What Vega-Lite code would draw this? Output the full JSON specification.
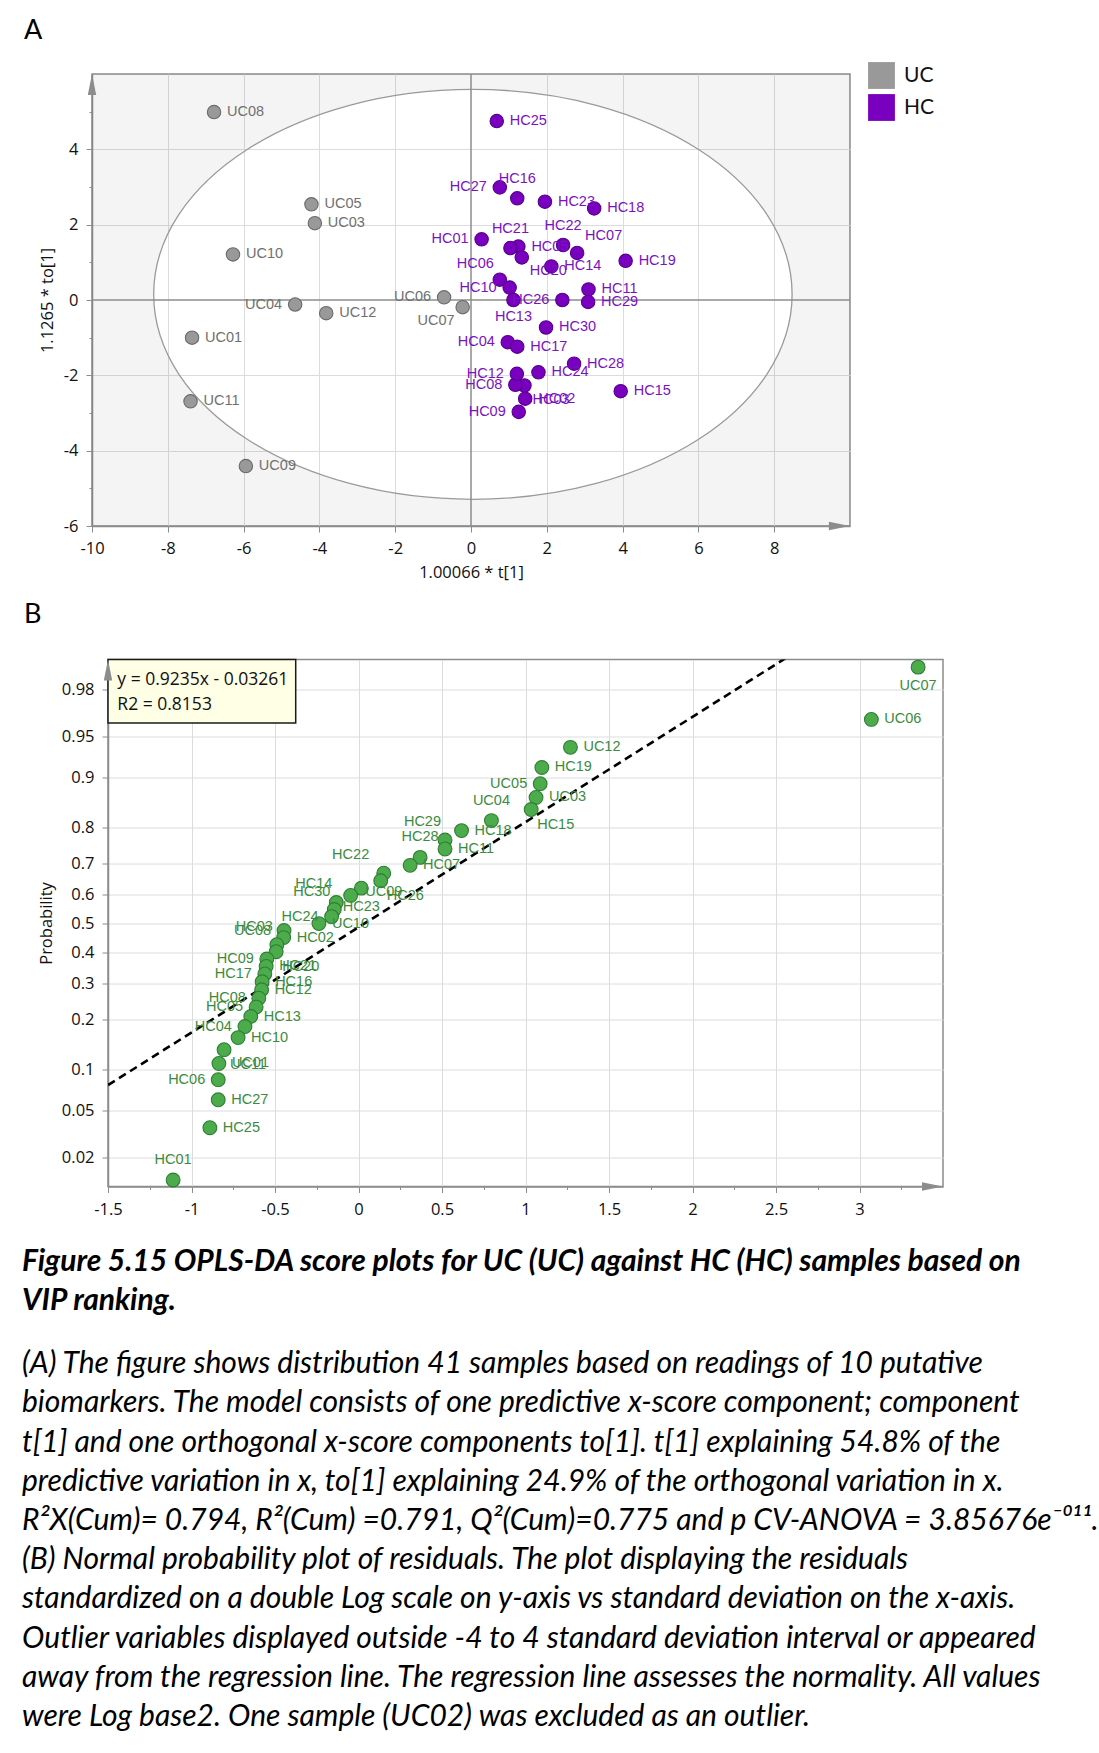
{
  "$schema": "https://vega.github.io/schema/vega-lite/v6.json",
  "background": "white",
  "padding": {"top": 16, "left": 22, "right": 2, "bottom": 10},
  "spacing": 17.5,
  "config": {
    "font": "Open Sans",
    "view": {"stroke": "#8c8c8c", "strokeWidth": 1.5},
    "axis": {
      "domainColor": "#8c8c8c", "domainWidth": 1.5, "tickColor": "#8c8c8c", "tickWidth": 1,
      "labelFont": "Open Sans", "labelFontSize": 16.5, "labelColor": "#111111", "labelPadding": 8,
      "titleFont": "Open Sans", "titleFontSize": 16.5, "titleFontWeight": "normal", "titleColor": "#111111",
      "gridColor": "#dcdcdc", "gridWidth": 1, "labelOverlap": false, "labelFlush": false
    }
  },
  "title": {
    "text": ["Figure 5.15 OPLS-DA score plots for UC (UC) against HC (HC) samples based on", "VIP ranking."],
    "subtitle": [
      " (A) The figure shows distribution 41 samples based on readings of 10 putative",
      "biomarkers. The model consists of one predictive x-score component; component",
      "t[1] and one orthogonal x-score components to[1]. t[1] explaining 54.8% of the",
      "predictive variation in x, to[1] explaining 24.9% of the orthogonal variation in x.",
      "R²X(Cum)= 0.794, R²(Cum) =0.791, Q²(Cum)=0.775 and p CV-ANOVA = 3.85676e⁻⁰¹¹.",
      "(B) Normal probability plot of residuals. The plot displaying the residuals",
      "standardized on a double Log scale on y-axis vs standard deviation on the x-axis.",
      "Outlier variables displayed outside -4 to 4 standard deviation interval or appeared",
      "away from the regression line. The regression line assesses the normality. All values",
      "were Log base2. One sample (UC02) was excluded as an outlier."
    ],
    "orient": "bottom", "anchor": "start", "offset": 28.5,
    "font": "Lato", "fontSize": 30, "fontStyle": "italic", "fontWeight": "bold", "color": "#000000", "lineHeight": 39,
    "subtitleFont": "Lato", "subtitleFontSize": 30, "subtitleFontStyle": "italic", "subtitleFontWeight": "normal",
    "subtitleColor": "#000000", "subtitleLineHeight": 39.2, "subtitlePadding": 33
  },
  "vconcat": [
    {"spacing": 0,
     "resolve": {"scale": {"fill": "independent", "stroke": "independent", "color": "independent"}},
     "hconcat": [
    {"width": 1, "height": 1, "data": {"values": [{}]}, "mark": {"type": "point", "opacity": 0, "size": 1}, "encoding": {}, "view": {"stroke": null, "fill": null}},
    {
      "width": 758, "height": 452,
      "title": {"text": "A", "anchor": "start", "frame": "group", "dx": -68, "offset": 17, "font": "Lato", "fontSize": 27, "fontWeight": "normal", "color": "#000000"},
      "view": {"fill": "white"},
      "data": {"values": [
        {"id": "UC01", "group": "UC", "t1": -7.36, "to1": -1.0},
        {"id": "UC03", "group": "UC", "t1": -4.12, "to1": 2.04},
        {"id": "UC04", "group": "UC", "t1": -4.64, "to1": -0.12},
        {"id": "UC05", "group": "UC", "t1": -4.21, "to1": 2.54},
        {"id": "UC06", "group": "UC", "t1": -0.71, "to1": 0.07},
        {"id": "UC07", "group": "UC", "t1": -0.22, "to1": -0.19},
        {"id": "UC08", "group": "UC", "t1": -6.78, "to1": 4.99},
        {"id": "UC09", "group": "UC", "t1": -5.94, "to1": -4.41},
        {"id": "UC10", "group": "UC", "t1": -6.28, "to1": 1.21},
        {"id": "UC11", "group": "UC", "t1": -7.4, "to1": -2.69},
        {"id": "UC12", "group": "UC", "t1": -3.82, "to1": -0.35},
        {"id": "HC01", "group": "HC", "t1": 0.28, "to1": 1.61},
        {"id": "HC02", "group": "HC", "t1": 1.43, "to1": -2.62},
        {"id": "HC03", "group": "HC", "t1": 1.41, "to1": -2.27},
        {"id": "HC04", "group": "HC", "t1": 0.97, "to1": -1.12},
        {"id": "HC05", "group": "HC", "t1": 1.25, "to1": 1.42},
        {"id": "HC06", "group": "HC", "t1": 0.76, "to1": 0.54},
        {"id": "HC07", "group": "HC", "t1": 2.8, "to1": 1.25},
        {"id": "HC08", "group": "HC", "t1": 1.17, "to1": -2.25},
        {"id": "HC09", "group": "HC", "t1": 1.26, "to1": -2.97},
        {"id": "HC10", "group": "HC", "t1": 1.02, "to1": 0.33},
        {"id": "HC11", "group": "HC", "t1": 3.1, "to1": 0.28},
        {"id": "HC12", "group": "HC", "t1": 1.21, "to1": -1.96},
        {"id": "HC13", "group": "HC", "t1": 1.12, "to1": 0.0},
        {"id": "HC14", "group": "HC", "t1": 2.12, "to1": 0.89},
        {"id": "HC15", "group": "HC", "t1": 3.95, "to1": -2.42},
        {"id": "HC16", "group": "HC", "t1": 1.22, "to1": 2.7},
        {"id": "HC17", "group": "HC", "t1": 1.22, "to1": -1.24},
        {"id": "HC18", "group": "HC", "t1": 3.25, "to1": 2.43},
        {"id": "HC19", "group": "HC", "t1": 4.08, "to1": 1.04},
        {"id": "HC20", "group": "HC", "t1": 1.34, "to1": 1.13},
        {"id": "HC21", "group": "HC", "t1": 1.04, "to1": 1.38},
        {"id": "HC22", "group": "HC", "t1": 2.43, "to1": 1.46},
        {"id": "HC23", "group": "HC", "t1": 1.95, "to1": 2.61},
        {"id": "HC24", "group": "HC", "t1": 1.78, "to1": -1.92},
        {"id": "HC25", "group": "HC", "t1": 0.68, "to1": 4.75},
        {"id": "HC26", "group": "HC", "t1": 2.41, "to1": 0.0},
        {"id": "HC27", "group": "HC", "t1": 0.76, "to1": 2.99},
        {"id": "HC28", "group": "HC", "t1": 2.72, "to1": -1.69},
        {"id": "HC29", "group": "HC", "t1": 3.09, "to1": -0.05},
        {"id": "HC30", "group": "HC", "t1": 1.98, "to1": -0.73}
      ]},
      "layer": [
        {
          "mark": {"type": "point", "filled": false, "opacity": 0, "size": 1},
          "encoding": {
            "x": {"field": "t1", "type": "quantitative",
              "scale": {"domain": [-10, 10], "nice": false, "zero": false},
              "axis": {"title": "1.00066 * t[1]", "titlePadding": 8,
                "values": [-10, -9, -8, -7, -6, -5, -4, -3, -2, -1, 0, 1, 2, 3, 4, 5, 6, 7, 8, 9],
                "labelExpr": "datum.value % 2 === 0 ? '' + datum.value : ''",
                "tickSize": {"condition": {"test": "datum.value % 2 !== 0", "value": 3}, "value": 6},
                "gridOpacity": {"condition": {"test": "datum.value % 2 !== 0 || datum.value === -10 || datum.value === 0", "value": 0}, "value": 1}}},
            "y": {"field": "to1", "type": "quantitative",
              "scale": {"domain": [-6, 6], "nice": false, "zero": false},
              "axis": {"title": "1.1265 * to[1]", "titlePadding": 8,
                "values": [-6, -5, -4, -3, -2, -1, 0, 1, 2, 3, 4, 5],
                "labelExpr": "datum.value % 2 === 0 ? '' + datum.value : ''",
                "tickSize": {"condition": {"test": "datum.value % 2 !== 0", "value": 3}, "value": 6},
                "gridOpacity": {"condition": {"test": "datum.value % 2 !== 0 || datum.value === -6 || datum.value === 0", "value": 0}, "value": 1}}}
          }
        },
        {
          "data": {"values": [{}]},
          "mark": {"type": "point", "filled": true, "color": "#000000", "opacity": 1, "fillOpacity": 0.045, "strokeWidth": 0, "clip": true,
            "size": 407555,
            "shape": "M -3 -3 L 3 -3 L 3 3 L -3 3 Z M -1 0 C -1 0.3546 -0.5523 0.642 0 0.642 C 0.5523 0.642 1 0.3546 1 0 C 1 -0.3546 0.5523 -0.642 0 -0.642 C -0.5523 -0.642 -1 -0.3546 -1 0 Z"},
          "encoding": {"x": {"datum": 0.05}, "y": {"datum": 0.15}}
        },
        {
          "data": {"values": [{}]},
          "mark": {"type": "point", "filled": false, "color": "#9a9a9a", "opacity": 1, "strokeWidth": 1.3, "clip": true,
            "size": 407555,
            "shape": "M -1 0 C -1 0.3546 -0.5523 0.642 0 0.642 C 0.5523 0.642 1 0.3546 1 0 C 1 -0.3546 0.5523 -0.642 0 -0.642 C -0.5523 -0.642 -1 -0.3546 -1 0 Z"},
          "encoding": {"x": {"datum": 0.05}, "y": {"datum": 0.15}}
        },
        {
          "data": {"values": [{}]},
          "mark": {"type": "rule", "color": "#8c8c8c", "strokeWidth": 1.5},
          "encoding": {"x": {"datum": 0}}
        },
        {
          "data": {"values": [{}]},
          "mark": {"type": "rule", "color": "#8c8c8c", "strokeWidth": 1.5},
          "encoding": {"y": {"datum": 0}}
        },
        {
          "mark": {"type": "point", "filled": true, "opacity": 1, "size": 180, "strokeWidth": 1.1},
          "encoding": {
            "x": {"field": "t1", "type": "quantitative"},
            "y": {"field": "to1", "type": "quantitative"},
            "fill": {"field": "group", "type": "nominal",
              "scale": {"domain": ["UC", "HC"], "range": ["#999999", "#7a00bf"]},
              "legend": {"title": null, "orient": "none", "legendX": 776, "legendY": -12, "symbolType": "square",
                "symbolSize": 720, "symbolStrokeWidth": 0, "symbolOpacity": 1, "labelFont": "Lato", "labelFontSize": 21,
                "labelColor": "#111111", "rowPadding": 5, "labelOffset": 9, "padding": 0}},
            "stroke": {"field": "group", "type": "nominal",
              "scale": {"domain": ["UC", "HC"], "range": ["#6a6a6a", "#55008a"]}, "legend": null}
          }
        },
        {
          "transform": [{"filter": {"field": "id", "oneOf": ["UC08", "UC05", "UC03", "UC10", "UC12", "UC01", "UC11", "UC09", "HC25", "HC23", "HC18", "HC05", "HC19", "HC14", "HC11", "HC29", "HC30", "HC17", "HC28", "HC24", "HC02", "HC15"]}}],
          "mark": {"type": "text", "font": "Liberation Sans", "fontSize": 14.5, "align": "left", "baseline": "middle", "dx": 13},
          "encoding": {"x": {"field": "t1", "type": "quantitative"}, "y": {"field": "to1", "type": "quantitative"}, "text": {"field": "id"},
            "color": {"field": "group", "type": "nominal", "scale": {"domain": ["UC", "HC"], "range": ["#707070", "#7a12bf"]}, "legend": null}}
        },
        {
          "transform": [{"filter": {"field": "id", "oneOf": ["UC04", "UC06", "HC27", "HC01", "HC10", "HC26", "HC04", "HC12", "HC08", "HC09"]}}],
          "mark": {"type": "text", "font": "Liberation Sans", "fontSize": 14.5, "align": "right", "baseline": "middle", "dx": -13},
          "encoding": {"x": {"field": "t1", "type": "quantitative"}, "y": {"field": "to1", "type": "quantitative"}, "text": {"field": "id"},
            "color": {"field": "group", "type": "nominal", "scale": {"domain": ["UC", "HC"], "range": ["#707070", "#7a12bf"]}, "legend": null}}
        },
        {
          "transform": [{"filter": {"field": "id", "oneOf": ["HC16", "HC21", "HC22"]}}],
          "mark": {"type": "text", "font": "Liberation Sans", "fontSize": 14.5, "align": "center", "baseline": "middle", "dy": -19},
          "encoding": {"x": {"field": "t1", "type": "quantitative"}, "y": {"field": "to1", "type": "quantitative"}, "text": {"field": "id"},
            "color": {"field": "group", "type": "nominal", "scale": {"domain": ["UC", "HC"], "range": ["#707070", "#7a12bf"]}, "legend": null}}
        },
        {
          "transform": [{"filter": {"field": "id", "oneOf": ["HC07"]}}],
          "mark": {"type": "text", "font": "Liberation Sans", "fontSize": 14.5, "align": "left", "baseline": "middle", "dx": 8, "dy": -17},
          "encoding": {"x": {"field": "t1", "type": "quantitative"}, "y": {"field": "to1", "type": "quantitative"}, "text": {"field": "id"},
            "color": {"field": "group", "type": "nominal", "scale": {"domain": ["UC", "HC"], "range": ["#707070", "#7a12bf"]}, "legend": null}}
        },
        {
          "transform": [{"filter": {"field": "id", "oneOf": ["HC13"]}}],
          "mark": {"type": "text", "font": "Liberation Sans", "fontSize": 14.5, "align": "center", "baseline": "middle", "dy": 17},
          "encoding": {"x": {"field": "t1", "type": "quantitative"}, "y": {"field": "to1", "type": "quantitative"}, "text": {"field": "id"},
            "color": {"field": "group", "type": "nominal", "scale": {"domain": ["UC", "HC"], "range": ["#707070", "#7a12bf"]}, "legend": null}}
        },
        {
          "transform": [{"filter": {"field": "id", "oneOf": ["HC20", "HC03"]}}],
          "mark": {"type": "text", "font": "Liberation Sans", "fontSize": 14.5, "align": "left", "baseline": "middle", "dx": 8, "dy": 14},
          "encoding": {"x": {"field": "t1", "type": "quantitative"}, "y": {"field": "to1", "type": "quantitative"}, "text": {"field": "id"},
            "color": {"field": "group", "type": "nominal", "scale": {"domain": ["UC", "HC"], "range": ["#707070", "#7a12bf"]}, "legend": null}}
        },
        {
          "transform": [{"filter": {"field": "id", "oneOf": ["HC06"]}}],
          "mark": {"type": "text", "font": "Liberation Sans", "fontSize": 14.5, "align": "right", "baseline": "middle", "dx": -6, "dy": -16},
          "encoding": {"x": {"field": "t1", "type": "quantitative"}, "y": {"field": "to1", "type": "quantitative"}, "text": {"field": "id"},
            "color": {"field": "group", "type": "nominal", "scale": {"domain": ["UC", "HC"], "range": ["#707070", "#7a12bf"]}, "legend": null}}
        },
        {
          "transform": [{"filter": {"field": "id", "oneOf": ["UC07"]}}],
          "mark": {"type": "text", "font": "Liberation Sans", "fontSize": 14.5, "align": "right", "baseline": "middle", "dx": -8, "dy": 14},
          "encoding": {"x": {"field": "t1", "type": "quantitative"}, "y": {"field": "to1", "type": "quantitative"}, "text": {"field": "id"},
            "color": {"field": "group", "type": "nominal", "scale": {"domain": ["UC", "HC"], "range": ["#707070", "#7a12bf"]}, "legend": null}}
        },
        {
          "data": {"values": [{}]},
          "mark": {"type": "point", "filled": true, "color": "#8c8c8c", "opacity": 1, "strokeWidth": 0, "size": 441, "shape": "M -1 -0.4 L 1 0 L -1 0.4 Z"},
          "encoding": {"x": {"datum": 9.72}, "y": {"datum": -6}}
        },
        {
          "data": {"values": [{}]},
          "mark": {"type": "point", "filled": true, "color": "#8c8c8c", "opacity": 1, "strokeWidth": 0, "size": 441, "shape": "M -0.4 1 L 0 -1 L 0.4 1 Z"},
          "encoding": {"x": {"datum": -10}, "y": {"datum": 5.72}}
        }
      ]
    }
    ]},
    {"spacing": 0, "hconcat": [
    {"width": 1, "height": 1, "data": {"values": [{}]}, "mark": {"type": "point", "opacity": 0, "size": 1}, "encoding": {}, "view": {"stroke": null, "fill": null}},
    {
      "width": 835, "height": 527,
      "title": {"text": "B", "anchor": "start", "frame": "group", "dx": -84, "offset": 29, "font": "Lato", "fontSize": 27, "fontWeight": "normal", "color": "#000000"},
      "view": {"fill": "white"},
      "data": {"values": [
        {"id": "UC07", "group": "UC", "sd": 3.351, "nscore": 2.251},
        {"id": "UC06", "group": "UC", "sd": 3.071, "nscore": 1.792},
        {"id": "UC12", "group": "UC", "sd": 1.269, "nscore": 1.547},
        {"id": "HC19", "group": "HC", "sd": 1.098, "nscore": 1.37},
        {"id": "UC05", "group": "UC", "sd": 1.088, "nscore": 1.228},
        {"id": "UC03", "group": "UC", "sd": 1.063, "nscore": 1.107},
        {"id": "HC15", "group": "HC", "sd": 1.034, "nscore": 1.001},
        {"id": "UC04", "group": "UC", "sd": 0.796, "nscore": 0.904},
        {"id": "HC18", "group": "HC", "sd": 0.617, "nscore": 0.816},
        {"id": "HC29", "group": "HC", "sd": 0.518, "nscore": 0.733},
        {"id": "HC11", "group": "HC", "sd": 0.518, "nscore": 0.655},
        {"id": "HC28", "group": "HC", "sd": 0.369, "nscore": 0.581},
        {"id": "HC07", "group": "HC", "sd": 0.309, "nscore": 0.511},
        {"id": "UC09", "group": "UC", "sd": 0.151, "nscore": 0.442},
        {"id": "HC26", "group": "HC", "sd": 0.133, "nscore": 0.376},
        {"id": "HC23", "group": "HC", "sd": 0.017, "nscore": 0.311},
        {"id": "HC22", "group": "HC", "sd": -0.047, "nscore": 0.247},
        {"id": "HC14", "group": "HC", "sd": -0.133, "nscore": 0.185},
        {"id": "HC30", "group": "HC", "sd": -0.145, "nscore": 0.123},
        {"id": "HC24", "group": "HC", "sd": -0.161, "nscore": 0.061},
        {"id": "UC10", "group": "UC", "sd": -0.237, "nscore": 0.0},
        {"id": "UC08", "group": "UC", "sd": -0.446, "nscore": -0.061},
        {"id": "HC02", "group": "HC", "sd": -0.448, "nscore": -0.123},
        {"id": "HC03", "group": "HC", "sd": -0.489, "nscore": -0.185},
        {"id": "HC20", "group": "HC", "sd": -0.493, "nscore": -0.247},
        {"id": "HC09", "group": "HC", "sd": -0.549, "nscore": -0.311},
        {"id": "HC21", "group": "HC", "sd": -0.553, "nscore": -0.376},
        {"id": "HC17", "group": "HC", "sd": -0.561, "nscore": -0.442},
        {"id": "HC16", "group": "HC", "sd": -0.577, "nscore": -0.511},
        {"id": "HC12", "group": "HC", "sd": -0.58, "nscore": -0.581},
        {"id": "HC08", "group": "HC", "sd": -0.597, "nscore": -0.655},
        {"id": "HC05", "group": "HC", "sd": -0.613, "nscore": -0.733},
        {"id": "HC13", "group": "HC", "sd": -0.645, "nscore": -0.816},
        {"id": "HC04", "group": "HC", "sd": -0.68, "nscore": -0.904},
        {"id": "HC10", "group": "HC", "sd": -0.721, "nscore": -1.001},
        {"id": "UC11", "group": "UC", "sd": -0.805, "nscore": -1.107},
        {"id": "UC01", "group": "UC", "sd": -0.836, "nscore": -1.228},
        {"id": "HC06", "group": "HC", "sd": -0.84, "nscore": -1.37},
        {"id": "HC27", "group": "HC", "sd": -0.84, "nscore": -1.547},
        {"id": "HC25", "group": "HC", "sd": -0.89, "nscore": -1.792},
        {"id": "HC01", "group": "HC", "sd": -1.11, "nscore": -2.251}
      ]},
      "layer": [
        {
          "data": {"values": [{"sd": -1.5, "nscore": -1.418}, {"sd": 3.5, "nscore": 3.2}]},
          "mark": {"type": "line", "color": "#000000", "strokeWidth": 2.6, "strokeDash": [8, 5], "clip": true},
          "encoding": {
            "x": {"field": "sd", "type": "quantitative",
              "scale": {"domain": [-1.5, 3.5], "nice": false, "zero": false},
              "axis": {"title": null, "labelPadding": 9,
                "values": [-1.5, -1.25, -1, -0.75, -0.5, -0.25, 0, 0.25, 0.5, 0.75, 1, 1.25, 1.5, 1.75, 2, 2.25, 2.5, 2.75, 3, 3.25],
                "labelExpr": "(datum.value * 2) % 1 === 0 ? '' + datum.value : ''",
                "tickSize": {"condition": {"test": "(datum.value * 2) % 1 !== 0", "value": 3}, "value": 6},
                "gridOpacity": {"condition": {"test": "(datum.value * 2) % 1 !== 0 || datum.value === -1.5", "value": 0}, "value": 1}}},
            "y": {"field": "nscore", "type": "quantitative",
              "scale": {"domain": [-2.308, 2.318], "nice": false, "zero": false},
              "axis": {"title": "Probability", "titlePadding": 7, "tickSize": 6,
                "values": [-2.0537, -1.6449, -1.2816, -0.8416, -0.5244, -0.2533, 0, 0.2533, 0.5244, 0.8416, 1.2816, 1.6449, 2.0537],
                "labelExpr": "format(cumulativeNormal(datum.value), '.2~f')"}}
          }
        },
        {
          "mark": {"type": "point", "filled": true, "opacity": 1, "size": 190, "fill": "#4cac4c", "stroke": "#2f7d34", "strokeWidth": 1.1},
          "encoding": {"x": {"field": "sd", "type": "quantitative"}, "y": {"field": "nscore", "type": "quantitative"}}
        },
        {
          "transform": [{"filter": {"field": "id", "oneOf": ["UC06", "UC12", "HC19", "UC03", "HC18", "HC11", "HC07", "UC10", "HC02", "HC21", "HC16", "HC12", "HC13", "HC10", "UC01", "HC27", "HC25"]}}],
          "mark": {"type": "text", "font": "Liberation Sans", "fontSize": 14.5, "color": "#3b8b3e", "align": "left", "baseline": "middle", "dx": 13},
          "encoding": {"x": {"field": "sd", "type": "quantitative"}, "y": {"field": "nscore", "type": "quantitative"}, "text": {"field": "id"}}
        },
        {
          "transform": [{"filter": {"field": "id", "oneOf": ["UC05", "HC24", "UC08", "HC09", "HC17", "HC08", "HC05", "HC04", "HC06"]}}],
          "mark": {"type": "text", "font": "Liberation Sans", "fontSize": 14.5, "color": "#3b8b3e", "align": "right", "baseline": "middle", "dx": -13},
          "encoding": {"x": {"field": "sd", "type": "quantitative"}, "y": {"field": "nscore", "type": "quantitative"}, "text": {"field": "id"}}
        },
        {
          "transform": [{"filter": {"field": "id", "oneOf": ["UC04", "HC28", "HC01"]}}],
          "mark": {"type": "text", "font": "Liberation Sans", "fontSize": 14.5, "color": "#3b8b3e", "align": "center", "baseline": "middle", "dy": -20},
          "encoding": {"x": {"field": "sd", "type": "quantitative"}, "y": {"field": "nscore", "type": "quantitative"}, "text": {"field": "id"}}
        },
        {
          "transform": [{"filter": {"field": "id", "oneOf": ["HC22"]}}],
          "mark": {"type": "text", "font": "Liberation Sans", "fontSize": 14.5, "color": "#3b8b3e", "align": "center", "baseline": "middle", "dy": -40},
          "encoding": {"x": {"field": "sd", "type": "quantitative"}, "y": {"field": "nscore", "type": "quantitative"}, "text": {"field": "id"}}
        },
        {
          "transform": [{"filter": {"field": "id", "oneOf": ["UC07", "HC23", "UC09"]}}],
          "mark": {"type": "text", "font": "Liberation Sans", "fontSize": 14.5, "color": "#3b8b3e", "align": "center", "baseline": "middle", "dy": 19},
          "encoding": {"x": {"field": "sd", "type": "quantitative"}, "y": {"field": "nscore", "type": "quantitative"}, "text": {"field": "id"}}
        },
        {
          "transform": [{"filter": {"field": "id", "oneOf": ["HC15", "HC26", "HC20", "UC11"]}}],
          "mark": {"type": "text", "font": "Liberation Sans", "fontSize": 14.5, "color": "#3b8b3e", "align": "left", "baseline": "middle", "dx": 6, "dy": 15},
          "encoding": {"x": {"field": "sd", "type": "quantitative"}, "y": {"field": "nscore", "type": "quantitative"}, "text": {"field": "id"}}
        },
        {
          "transform": [{"filter": {"field": "id", "oneOf": ["HC29", "HC14", "HC30", "HC03"]}}],
          "mark": {"type": "text", "font": "Liberation Sans", "fontSize": 14.5, "color": "#3b8b3e", "align": "right", "baseline": "middle", "dx": -4, "dy": -18},
          "encoding": {"x": {"field": "sd", "type": "quantitative"}, "y": {"field": "nscore", "type": "quantitative"}, "text": {"field": "id"}}
        },
        {
          "data": {"values": [{}]},
          "mark": {"type": "rect", "fill": "#ffffe6", "stroke": "#1a1a1a", "strokeWidth": 1.5},
          "encoding": {"x": {"datum": -1.5}, "x2": {"datum": -0.376}, "y": {"datum": 2.318}, "y2": {"datum": 1.76}}
        },
        {
          "data": {"values": [{}]},
          "mark": {"type": "text", "font": "Open Sans", "fontSize": 17.5, "color": "#111111", "align": "left", "baseline": "middle"},
          "encoding": {"x": {"datum": -1.444}, "y": {"datum": 2.139}, "text": {"value": "y = 0.9235x - 0.03261"}}
        },
        {
          "data": {"values": [{}]},
          "mark": {"type": "text", "font": "Open Sans", "fontSize": 17.5, "color": "#111111", "align": "left", "baseline": "middle"},
          "encoding": {"x": {"datum": -1.444}, "y": {"datum": 1.918}, "text": {"value": "R2 = 0.8153"}}
        },
        {
          "data": {"values": [{}]},
          "mark": {"type": "point", "filled": true, "color": "#8c8c8c", "opacity": 1, "strokeWidth": 0, "size": 441, "shape": "M -1 -0.4 L 1 0 L -1 0.4 Z"},
          "encoding": {"x": {"datum": 3.437}, "y": {"datum": -2.308}}
        },
        {
          "data": {"values": [{}]},
          "mark": {"type": "point", "filled": true, "color": "#8c8c8c", "opacity": 1, "strokeWidth": 0, "size": 441, "shape": "M -0.4 1 L 0 -1 L 0.4 1 Z"},
          "encoding": {"x": {"datum": -1.5}, "y": {"datum": 2.226}}
        }
      ]
    }
    ]}
  ]
}
